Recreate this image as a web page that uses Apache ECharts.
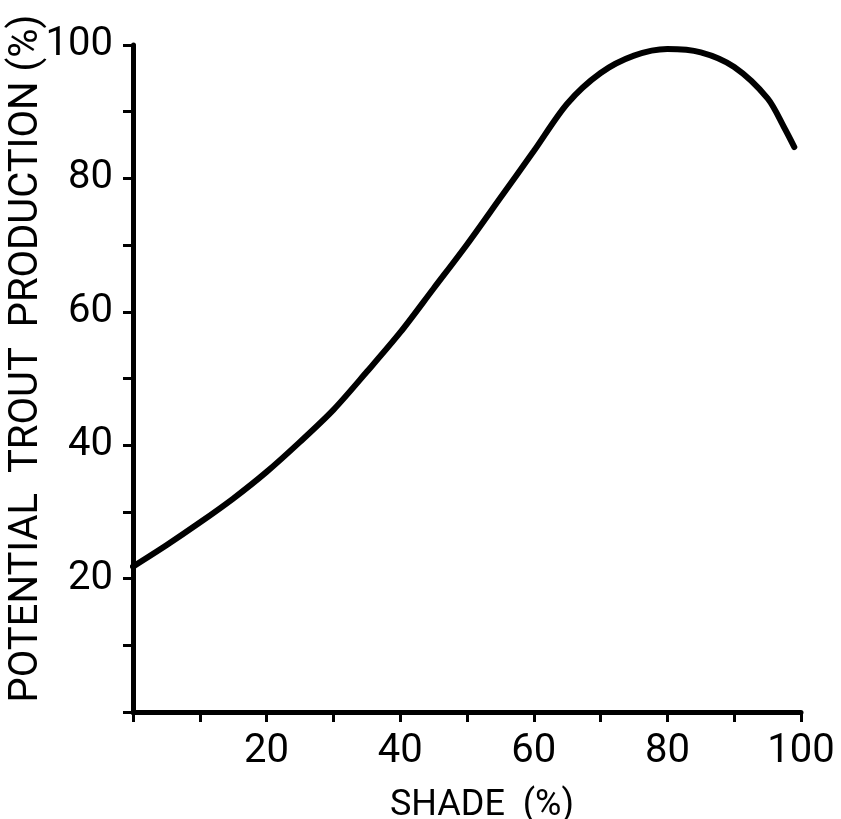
<!DOCTYPE html>
<html>
<head>
<meta charset="utf-8">
<script src="https://cdn.jsdelivr.net/npm/echarts@6/dist/echarts.min.js"></script>
<style>html,body{margin:0;padding:0;background:#fff;}#c{width:841px;height:819px;}</style>
</head>
<body>
<div id="c"></div>
<script>
const shade = [0, 5, 10, 15, 20, 25, 30, 35, 40, 45, 50, 55, 60, 65, 70, 75, 80, 85, 90, 95, 97.5, 99];
const production = [21.8, 25.0, 28.4, 32.0, 36.0, 40.5, 45.3, 51.0, 56.9, 63.5, 70.1, 77.1, 84.1, 91.2, 95.8, 98.4, 99.4, 98.9, 96.7, 92.0, 87.6, 84.7];
const xTickLabels = [20, 40, 60, 80, 100];
const yTickLabels = [20, 40, 60, 80, 100];
const xTitle = 'SHADE  (%)';
const yTitle = 'POTENTIAL  TROUT  PRODUCTION (%)';

const chart = echarts.init(document.getElementById('c'), null, {renderer: 'canvas'});
const font = 'Roboto';
const axisCommon = {
  type: 'value', min: 0, max: 100, interval: 10,
  axisLine: {show: true, lineStyle: {color: '#000', width: 5}},
  axisTick: {show: true, inside: false, length: 10, lineStyle: {color: '#000', width: 3}},
  splitLine: {show: false},
  nameLocation: 'middle',
  nameMoveOverlap: false
};
chart.setOption({
  animation: false,
  backgroundColor: '#fff',
  grid: {left: 133, right: 40, top: 45, bottom: 107, containLabel: false, outerBoundsMode: 'none'},
  xAxis: Object.assign({}, axisCommon, {
    name: xTitle, nameGap: 76,
    nameTextStyle: {fontFamily: font, fontSize: 36, color: '#000', padding: [0, 0, 0, 30]},
    axisLabel: {margin: 20, fontFamily: font, fontSize: 40, color: '#000',
      formatter: v => xTickLabels.indexOf(v) >= 0 ? String(v) : ''}
  }),
  yAxis: Object.assign({}, axisCommon, {
    name: yTitle, nameGap: 86,
    nameTextStyle: {fontFamily: font, fontSize: 40, color: '#000', padding: [0, 0, 0, 40]},
    axisLabel: {margin: 20, fontFamily: font, fontSize: 40, color: '#000',
      formatter: v => yTickLabels.indexOf(v) >= 0 ? String(v) : ''}
  }),
  series: [{
    type: 'line',
    data: shade.map((s, i) => [s, production[i]]),
    smooth: 0.3,
    showSymbol: false,
    lineStyle: {color: '#000', width: 6, cap: 'round'}
  }]
});
</script>
</body>
</html>
